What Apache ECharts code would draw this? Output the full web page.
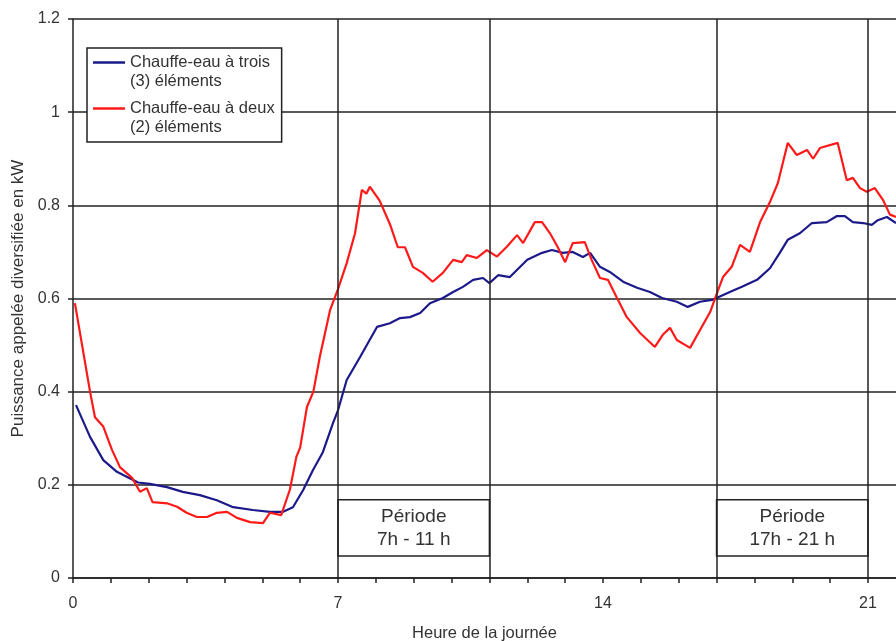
<!DOCTYPE html>
<html>
<head>
<meta charset="utf-8">
<script src="https://cdn.jsdelivr.net/npm/echarts@6/dist/echarts.min.js"></script>
<style>
  html, body { margin: 0; padding: 0; background: #fff; }
  #chart { width: 896px; height: 641px; }
</style>
</head>
<body>
<div id="chart"></div>
<script>
// hours / kW
const redHours = [0.05, 0.45, 0.58, 0.8, 1.03, 1.24, 1.56, 1.77, 1.95, 2.1, 2.5, 2.75, 3.0, 3.27, 3.54, 3.8, 4.07, 4.33, 4.68, 5.02, 5.2, 5.5, 5.73, 5.9, 6.0, 6.18, 6.35, 6.52, 6.79, 7.0, 7.23, 7.45, 7.63, 7.75, 7.84, 8.1, 8.37, 8.58, 8.77, 8.98, 9.24, 9.5, 9.77, 10.04, 10.27, 10.4, 10.67, 10.93, 11.2, 11.46, 11.73, 11.89, 12.2, 12.39, 12.6, 12.8, 13.0, 13.2, 13.52, 13.7, 13.92, 14.13, 14.37, 14.63, 14.98, 15.37, 15.58, 15.77, 15.95, 16.3, 16.56, 16.83, 17.04, 17.17, 17.4, 17.62, 17.88, 18.15, 18.41, 18.62, 18.88, 19.12, 19.39, 19.55, 19.73, 20.2, 20.44, 20.6, 20.79, 20.97, 21.18, 21.4, 21.58, 21.74]
const redKw = [0.59, 0.40, 0.345, 0.325, 0.275, 0.238, 0.215, 0.185, 0.193, 0.163, 0.16, 0.153, 0.14, 0.131, 0.131, 0.14, 0.142, 0.129, 0.12, 0.118, 0.14, 0.135, 0.19, 0.26, 0.28, 0.367, 0.40, 0.475, 0.575, 0.62, 0.676, 0.74, 0.833, 0.825, 0.84, 0.81, 0.76, 0.71, 0.71, 0.668, 0.655, 0.636, 0.655, 0.683, 0.678, 0.693, 0.687, 0.704, 0.69, 0.711, 0.736, 0.719, 0.764, 0.764, 0.74, 0.711, 0.678, 0.719, 0.721, 0.683, 0.644, 0.64, 0.601, 0.56, 0.526, 0.496, 0.522, 0.537, 0.511, 0.494, 0.532, 0.571, 0.618, 0.646, 0.668, 0.715, 0.70, 0.764, 0.807, 0.848, 0.934, 0.908, 0.919, 0.90, 0.923, 0.934, 0.854, 0.859, 0.837, 0.829, 0.837, 0.811, 0.78, 0.775]

const blueHours = [0.08, 0.45, 0.8, 1.16, 1.43, 1.72, 2.03, 2.48, 2.9, 3.35, 3.8, 4.23, 4.75, 5.2, 5.55, 5.81, 6.08, 6.34, 6.6, 6.87, 7.0, 7.23, 7.58, 8.03, 8.37, 8.64, 8.9, 9.17, 9.43, 9.77, 10.04, 10.3, 10.57, 10.83, 11.0, 11.23, 11.54, 12.0, 12.39, 12.65, 12.94, 13.2, 13.47, 13.66, 13.92, 14.18, 14.53, 14.9, 15.24, 15.56, 15.95, 16.24, 16.56, 16.88, 17.0, 17.35, 17.67, 18.07, 18.41, 18.67, 18.88, 19.2, 19.52, 19.91, 20.18, 20.39, 20.6, 20.87, 21.1, 21.26, 21.5, 21.74]
const blueKw = [0.371, 0.303, 0.253, 0.228, 0.217, 0.205, 0.202, 0.195, 0.185, 0.178, 0.167, 0.152, 0.146, 0.142, 0.142, 0.152, 0.189, 0.232, 0.27, 0.333, 0.36, 0.425, 0.474, 0.539, 0.547, 0.558, 0.56, 0.569, 0.59, 0.601, 0.614, 0.625, 0.64, 0.644, 0.633, 0.65, 0.646, 0.683, 0.698, 0.704, 0.698, 0.70, 0.689, 0.698, 0.668, 0.657, 0.636, 0.623, 0.614, 0.601, 0.593, 0.582, 0.593, 0.597, 0.601, 0.614, 0.625, 0.64, 0.665, 0.698, 0.726, 0.74, 0.762, 0.764, 0.777, 0.777, 0.764, 0.762, 0.758, 0.768, 0.775, 0.762]

const seriesNames = ['Chauffe-eau à trois\n(3) éléments', 'Chauffe-eau à deux\n(2) éléments']
const markerHours = [7, 11, 17, 21]
const periods = [
    { from: 7, to: 11, label: 'Période\n7h - 11 h' },
    { from: 17, to: 21, label: 'Période\n17h - 21 h' },
]
const periodBox = [0.047, 0.168]

const xMax = 21.74
const font = 'Liberation Sans'
const ink = '#222'
const textInk = '#333'

const zip = (xs, ys) => xs.map((x, i) => [x, ys[i]])

// legend icon: line sitting on the first text line (bbox kept 38 tall)
const legendIcon = 'path://M0,0 L32,0 M0,8.3 L32,8.3 L32,10.7 L0,10.7 Z M0,38 L32,38'

const chart = echarts.init(document.getElementById('chart'))
chart.setOption({
    animation: false,
    textStyle: { fontFamily: font },
    grid: { left: 73, right: 0, top: 19, bottom: 63, outerBoundsMode: 'none', containLabel: false },
    legend: {
        left: 87,
        top: 48,
        orient: 'vertical',
        backgroundColor: '#fff',
        borderColor: ink,
        borderWidth: 1.5,
        padding: [5, 7, 5, 6],
        itemGap: 8,
        itemWidth: 32,
        itemHeight: 38,
        symbolKeepAspect: false,
        icon: legendIcon,
        textStyle: { fontSize: 16.5, color: textInk, lineHeight: 19 },
        data: seriesNames,
    },
    xAxis: {
        type: 'value',
        min: 0,
        max: xMax,
        interval: 1,
        name: 'Heure de la journée',
        nameLocation: 'middle',
        nameGap: 47,
        nameTextStyle: { fontSize: 16.5, color: textInk },
        axisLine: { lineStyle: { color: ink, width: 1.5 } },
        axisTick: { length: 5, lineStyle: { color: ink, width: 1.5 } },
        axisLabel: {
            fontSize: 16,
            color: textInk,
            margin: 18,
            showMaxLabel: false,
            formatter: v => (v % 7 === 0 ? String(v) : ''),
        },
        splitLine: { show: false },
    },
    yAxis: {
        type: 'value',
        min: 0,
        max: 1.2,
        interval: 0.2,
        name: 'Puissance appelée diversifiée en kW',
        nameLocation: 'middle',
        nameGap: 44,
        nameTextStyle: { fontSize: 17, color: textInk },
        axisLine: { show: true, lineStyle: { color: ink, width: 1.5 } },
        axisTick: { show: true, length: 5, lineStyle: { color: ink, width: 1.5 } },
        axisLabel: {
            fontSize: 16,
            color: textInk,
            margin: 13,
            formatter: v => String(Math.round(v * 10) / 10),
        },
        splitLine: { lineStyle: { color: ink, width: 1.5 } },
    },
    series: [
        {
            name: seriesNames[0],
            type: 'line',
            data: zip(blueHours, blueKw),
            showSymbol: false,
            color: '#1c1a8a',
            lineStyle: { width: 2.2 },
            z: 3,
            markLine: {
                silent: true,
                symbol: 'none',
                label: { show: false },
                lineStyle: { color: ink, width: 1.5, type: 'solid' },
                data: markerHours.map(h => ({ xAxis: h })),
            },
            markArea: {
                silent: true,
                itemStyle: { color: 'rgba(0,0,0,0)', borderColor: ink, borderWidth: 1.5 },
                label: {
                    position: 'inside',
                    fontSize: 19,
                    color: textInk,
                    lineHeight: 23,
                },
                data: periods.map(p => [
                    { name: p.label, coord: [p.from, periodBox[0]] },
                    { coord: [p.to, periodBox[1]] },
                ]),
            },
        },
        {
            name: seriesNames[1],
            type: 'line',
            data: zip(redHours, redKw),
            showSymbol: false,
            color: '#ff1a1a',
            lineStyle: { width: 2.2 },
            z: 4,
        },
    ],
})
</script>
</body>
</html>
